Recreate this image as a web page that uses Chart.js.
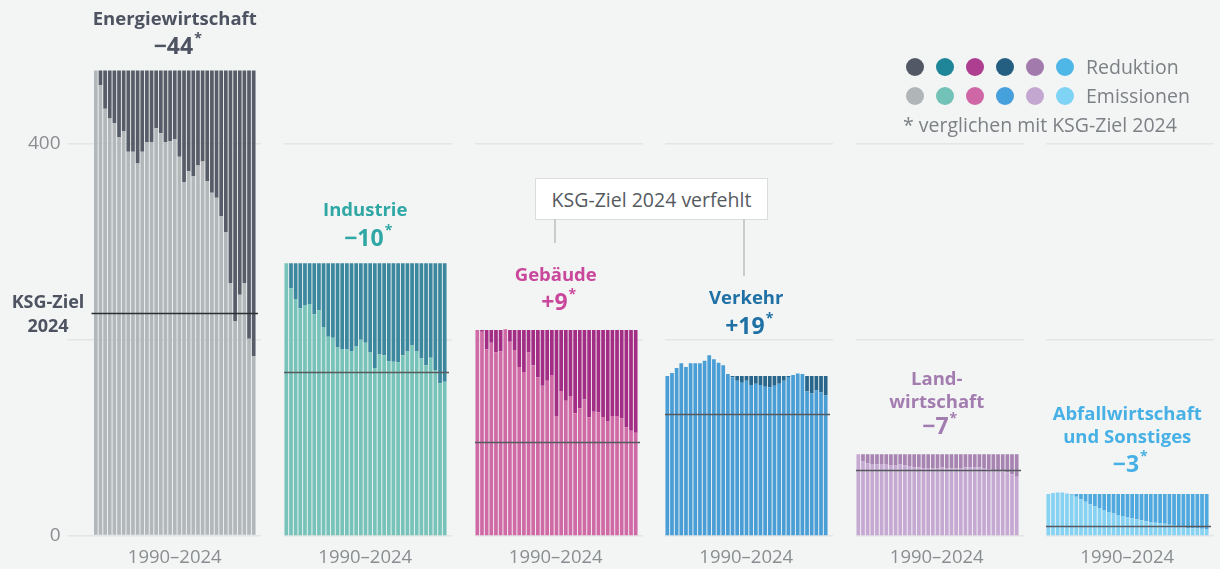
<!DOCTYPE html>
<html>
<head>
<meta charset="utf-8">
<script src="https://cdn.jsdelivr.net/npm/chart.js@4.4.1/dist/chart.umd.min.js"></script>
<style>
  html, body { margin:0; padding:0; background:#f3f4f4; }
  #wrap { position:relative; width:1220px; height:569px; overflow:hidden; font-family:'Open Sans','Noto Sans',sans-serif; }
  canvas { position:absolute; top:0; }
  .t { position:absolute; transform:translate(-50%,-50%); white-space:nowrap; font-weight:700; line-height:1; }
  .name { font-size:18.5px; }
  .num { font-size:23px; }
  .num sup { font-size:14px; vertical-align:top; position:relative; top:-3px; margin-left:1px; }
  .yr { position:absolute; transform:translate(-50%,-50%); font-size:18.5px; color:#8a8e91; white-space:nowrap; line-height:1; }
  .lg { position:absolute; transform:translateY(-50%); font-size:19.5px; color:#7d8185; white-space:nowrap; line-height:1; }
  .dot { position:absolute; width:18px; height:18px; border-radius:50%; transform:translate(-50%,-50%); }
  #box { position:absolute; left:535px; top:178px; width:231px; height:40px; background:#fff; border:1px solid #dadcdd; font-size:19.5px; color:#555a5f; display:flex; align-items:center; justify-content:center; }
  .conn { position:absolute; width:1.5px; background:#c9cbcc; }
</style>
</head>
<body>
<div id="wrap"></div>
<script>
// ---- data ----
const years = ['1990','1991','1992','1993','1994','1995','1996','1997','1998','1999','2000','2001','2002','2003','2004','2005','2006','2007','2008','2009','2010','2011','2012','2013','2014','2015','2016','2017','2018','2019','2020','2021','2022','2023','2024'];
const sectorNames = [['Energiewirtschaft'], ['Industrie'], ['Gebäude'], ['Verkehr'], ['Land-','wirtschaft'], ['Abfallwirtschaft','und Sonstiges']];
const energiewirtschaft = [475, 460, 436, 426, 421, 407, 413, 392, 392, 380, 392, 402, 402, 416, 411, 402, 403, 405, 387, 361, 372, 367, 378, 382, 362, 350, 345, 326, 310, 258, 219, 246, 258, 201, 183];
const industrie = [278, 252.5, 241.5, 232, 235.5, 236.5, 226, 230, 213, 203, 202, 192, 190, 190, 188.5, 193, 200, 197, 187, 171, 185, 184, 178, 177.5, 177, 184, 188, 194, 188, 181, 174, 181.5, 169, 155.5, 157];
const gebaeude = [210, 208, 190, 197, 187, 188, 210.6, 198, 189.5, 172, 167, 187, 174, 161.6, 153, 158, 164, 122, 147.6, 137.7, 142.5, 125, 130, 139, 120.7, 126.5, 126, 121, 117, 122, 122, 119.7, 110.5, 107, 105];
const verkehr = [163, 166, 171, 176, 172, 176, 176, 176, 178.5, 184, 180, 176.5, 174, 165, 161.6, 158, 156, 158, 153.7, 155, 153.7, 152, 151.5, 153, 155, 158, 162, 164, 165.5, 165, 147, 145, 148, 146, 143];
const landwirtschaft = [83, 75.5, 73.5, 73, 72.5, 73, 73, 72, 72, 72.5, 71.5, 71, 70, 69.5, 69, 69, 68.5, 69, 69.5, 69, 68.5, 68.5, 69, 69.5, 70, 70, 69.5, 69, 68, 67, 66.5, 65.5, 64.5, 62.5, 60];
const abfallSonstiges = [42.4, 43.5, 44, 44, 43, 41.5, 39.5, 37, 34.5, 32, 30, 28, 26, 24, 22.5, 21, 20, 19, 17.5, 16.5, 15.5, 14.5, 13.5, 13, 12.5, 12, 11, 10, 9, 8.2, 7.6, 7.3, 7.1, 6.9, 6.7];
const ksgZiel2024 = [227, 167, 96, 124, 67, 9.7];
const diffToZiel = ['−44', '−10', '+9', '+19', '−7', '−3'];
const yTickLabels = [0, 400];

const series = [energiewirtschaft, industrie, gebaeude, verkehr, landwirtschaft, abfallSonstiges];
const emisColors = ['#b2b7ba', '#77c3b9', '#d06aa6', '#4a9ed6', '#c6a9d3', '#86d2f3'];
const redColors  = ['#565c68', '#3a879e', '#a32d84', '#27658a', '#a884b2', '#4fa9de'];
const titleColors = ['#4d5361', '#2fa7a4', '#c9489c', '#1f70a4', '#a37db0', '#47b1e6'];
const legendRed = ['#525866', '#1f8599', '#ad3e90', '#245f82', '#a27aab', '#4fb6e8'];
const legendEmis = ['#b0b5b8', '#72c2b8', '#cf67a6', '#46a0db', '#c4a7d1', '#7fd3f5'];

// ---- layout ----
const wrap = document.getElementById('wrap');
const AREA_W = 162.5, P0 = 93.5, STEP = 190.5;
const CH = 569, PAD_TOP = 46, PAD_BOTTOM = 33.5, YMAX = 500;
const GRID = '#e3e5e6';
const gridColor = c => (c.tick && c.tick.value % 200 === 0) ? GRID : 'rgba(0,0,0,0)';

function el(cls, html, style){ const d=document.createElement('div'); d.className=cls; d.innerHTML=html; Object.assign(d.style, style); wrap.appendChild(d); return d; }

series.forEach((vals, i) => {
  const base = vals[0];
  const reduction = vals.map(v => Math.max(0, base - v));
  const first = i === 0;
  const leftW = first ? P0 : 0;
  const areaLeft = P0 + STEP * i;
  const cw = leftW + AREA_W + 5;
  const cv = document.createElement('canvas');
  cv.width = Math.ceil(cw); cv.height = CH;
  cv.style.left = (areaLeft - leftW) + 'px';
  cv.style.width = Math.ceil(cw) + 'px'; cv.style.height = CH + 'px';
  wrap.appendChild(cv);
  const target = ksgZiel2024[i];
  new Chart(cv, {
    type: 'bar',
    data: { labels: years, datasets: [
      { label: 'Emissionen', data: vals, backgroundColor: emisColors[i], barPercentage: 0.8, categoryPercentage: 1 },
      { label: 'Reduktion', data: reduction, backgroundColor: redColors[i], barPercentage: 0.8, categoryPercentage: 1 }
    ]},
    options: {
      responsive: false, animation: false, devicePixelRatio: 1,
      layout: { padding: { top: PAD_TOP, bottom: PAD_BOTTOM, left: 0, right: 0 } },
      plugins: { legend: { display: false }, tooltip: { enabled: false } },
      scales: {
        x: { stacked: true, display: false },
        y: {
          stacked: true, min: 0, max: YMAX, position: 'left', display: first,
          border: { display: false },
          grid: { color: gridColor, lineWidth: 1.5, tickLength: 26, z: -1 },
          ticks: { stepSize: 200, padding: 7, color: '#8b8e91', font: { family: "'Open Sans'", size: 19 },
                   callback: v => yTickLabels.includes(v) ? String(v) : '' },
          afterFit: s => { if (first) s.width = P0; }
        },
        y2: {
          min: 0, max: YMAX, position: 'right', display: true,
          border: { display: false },
          grid: { color: gridColor, lineWidth: 1.5, tickLength: 5, drawOnChartArea: !first, z: -1 },
          ticks: { display: false, stepSize: 200 },
          afterFit: s => { s.width = 5; }
        }
      }
    },
    plugins: [{
      id: 'ziel',
      afterDatasetsDraw(chart) {
        const ctx = chart.ctx, a = chart.chartArea;
        const y = Math.round(chart.scales.y.getPixelForValue(target)) + 0.5;
        ctx.save();
        ctx.strokeStyle = i === 0 ? '#2b2e33' : '#555a5e';
        ctx.lineWidth = 1.3;
        ctx.beginPath(); ctx.moveTo(a.left - 2, y); ctx.lineTo(a.right + 2, y); ctx.stroke();
        ctx.restore();
      }
    }]
  });

  // titles
  const cx = areaLeft + AREA_W / 2;
  const titleY = [[18, 45], [209, 237], [274, 301], [297, 325], [378, 401, 425], [413, 436, 463]][i];
  sectorNames[i].forEach((line, k) => el('t name', line, { left: cx + 'px', top: titleY[k] + 'px', color: titleColors[i] }));
  el('t num', diffToZiel[i] + '<sup>*</sup>', { left: (cx + 3) + 'px', top: titleY[titleY.length - 1] + 'px', color: titleColors[i] });
  el('yr', years[0] + '–' + years[years.length - 1], { left: cx + 'px', top: '556px' });
});

// y-axis target label
el('t name', 'KSG-Ziel', { left: '48px', top: '301px', color: '#4d5361', fontSize: '18px' });
el('t name', '2024', { left: '48px', top: '325px', color: '#4d5361', fontSize: '18px' });

// annotation
el('', 'KSG-Ziel 2024 verfehlt', {}).id = 'box';
el('conn', '', { left: '554px', top: '219px', height: '24px' });
el('conn', '', { left: '743px', top: '219px', height: '57px' });

// legend
legendRed.forEach((c, k) => el('dot', '', { left: (915 + 30 * k) + 'px', top: '67px', background: c }));
legendEmis.forEach((c, k) => el('dot', '', { left: (915 + 30 * k) + 'px', top: '96px', background: c }));
el('lg', 'Reduktion', { left: '1086px', top: '67px' });
el('lg', 'Emissionen', { left: '1086px', top: '96px' });
el('lg', '* verglichen mit KSG-Ziel 2024', { left: '903px', top: '125px' });
</script>
</body>
</html>
